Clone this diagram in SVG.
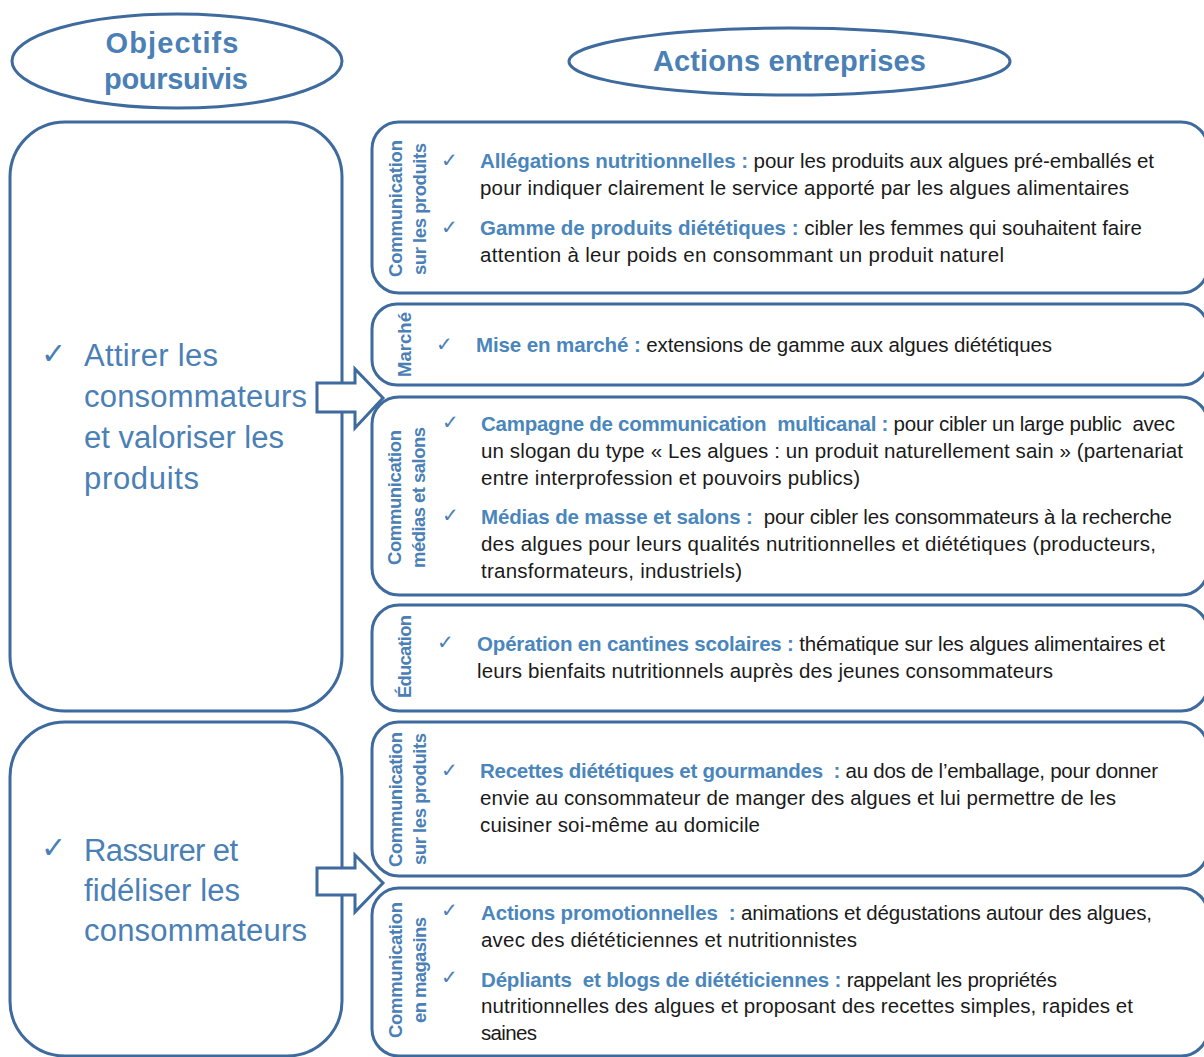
<svg xmlns="http://www.w3.org/2000/svg" width="1204" height="1057" viewBox="0 0 1204 1057">
<style>
.shape{fill:#ffffff;stroke:#3E6A9E;stroke-width:3}
.hdr{font-family:"Liberation Sans",Arial,sans-serif;font-weight:bold;font-size:29px;fill:#4A80B6;text-anchor:middle}
.obj{font-family:"Liberation Sans",Arial,sans-serif;font-size:31px;fill:#4A80B6}
.big{font-family:"DejaVu Sans",sans-serif;font-size:30px;fill:#4A80B6}
.chk{font-family:"DejaVu Sans",sans-serif;font-size:20px;fill:#4A80B6}
.vl{font-family:"Liberation Sans",Arial,sans-serif;font-weight:bold;font-size:18.5px;fill:#4A80B6;text-anchor:middle}
.t{font-family:"Liberation Sans",Arial,sans-serif;font-size:20.5px;fill:#1a1a1a}
.b{font-weight:bold;fill:#4A86BC}
</style>

<g id="header-objectifs">
<ellipse class="shape" cx="177" cy="61" rx="165" ry="47"/>
<text class="hdr" x="172" y="53" textLength="133">Objectifs</text>
<text class="hdr" x="176" y="89" textLength="144">poursuivis</text>
</g>
<g id="header-actions">
<ellipse class="shape" cx="789.5" cy="61.5" rx="220.5" ry="33.5"/>
<text class="hdr" x="789.5" y="71" textLength="273">Actions entreprises</text>
</g>

<g id="objectif-attirer">
<rect class="shape" x="10" y="122" width="332" height="589" rx="55"/>
<text class="big" x="41" y="364">✓</text>
<text class="obj" x="84" y="366" textLength="134">Attirer les</text>
<text class="obj" x="84" y="407" textLength="223">consommateurs</text>
<text class="obj" x="84" y="448" textLength="200">et valoriser les</text>
<text class="obj" x="84" y="489" textLength="115">produits</text>
</g>

<g id="objectif-rassurer">
<rect class="shape" x="10" y="722" width="332" height="334" rx="55"/>
<text class="big" x="41" y="858">✓</text>
<text class="obj" x="84" y="861" textLength="154">Rassurer et</text>
<text class="obj" x="84" y="901" textLength="156">fidéliser les</text>
<text class="obj" x="84" y="941" textLength="223">consommateurs</text>
</g>

<g id="action-communication-produits-1">
<rect class="shape" x="372" y="122" width="836" height="171" rx="27"/>
<text class="vl" transform="translate(402,208.5) rotate(-90)" textLength="137">Communication</text>
<text class="vl" transform="translate(426,209) rotate(-90)" textLength="132">sur les produits</text>
<text class="chk" x="441" y="167">✓</text>
<text class="t" x="480" y="168" textLength="674"><tspan class="b">Allégations nutritionnelles :</tspan> pour les produits aux algues pré-emballés et</text>
<text class="t" x="480" y="195" textLength="649">pour indiquer clairement le service apporté par les algues alimentaires</text>
<text class="chk" x="441" y="234">✓</text>
<text class="t" x="480" y="235" textLength="662"><tspan class="b">Gamme de produits diététiques :</tspan> cibler les femmes qui souhaitent faire</text>
<text class="t" x="480" y="262" textLength="524">attention à leur poids en consommant un produit naturel</text>
</g>

<g id="action-marche">
<rect class="shape" x="372" y="304" width="836" height="81" rx="25"/>
<text class="vl" transform="translate(411,344.5) rotate(-90)" textLength="65">Marché</text>
<text class="chk" x="436" y="351">✓</text>
<text class="t" x="476" y="352" textLength="576"><tspan class="b">Mise en marché :</tspan> extensions de gamme aux algues diététiques</text>
</g>

<g id="action-communication-medias">
<rect class="shape" x="372" y="397" width="836" height="198" rx="27"/>
<text class="vl" transform="translate(401,497.5) rotate(-90)" textLength="135">Communication</text>
<text class="vl" transform="translate(425,497.5) rotate(-90)" textLength="141">médias et salons</text>
<text class="chk" x="442" y="429">✓</text>
<text class="t" x="481" y="431" textLength="694" xml:space="preserve"><tspan class="b">Campagne de communication  multicanal :</tspan> pour cibler un large public  avec</text>
<text class="t" x="481" y="458" textLength="702">un slogan du type « Les algues : un produit naturellement sain » (partenariat</text>
<text class="t" x="481" y="485" textLength="379">entre interprofession et pouvoirs publics)</text>
<text class="chk" x="442" y="522">✓</text>
<text class="t" x="481" y="524" textLength="691" xml:space="preserve"><tspan class="b">Médias de masse et salons :</tspan>  pour cibler les consommateurs à la recherche</text>
<text class="t" x="481" y="551" textLength="675">des algues pour leurs qualités nutritionnelles et diététiques (producteurs,</text>
<text class="t" x="481" y="578" textLength="261">transformateurs, industriels)</text>
</g>

<g id="action-education">
<rect class="shape" x="372" y="605" width="836" height="106" rx="27"/>
<text class="vl" transform="translate(411,656.5) rotate(-90)" textLength="83">Éducation</text>
<text class="chk" x="437" y="649">✓</text>
<text class="t" x="477" y="651" textLength="688"><tspan class="b">Opération en cantines scolaires :</tspan> thématique sur les algues alimentaires et</text>
<text class="t" x="477" y="678" textLength="576">leurs bienfaits nutritionnels auprès des jeunes consommateurs</text>
</g>

<g id="action-communication-produits-2">
<rect class="shape" x="372" y="722" width="836" height="154" rx="27"/>
<text class="vl" transform="translate(402,799.5) rotate(-90)" textLength="135">Communication</text>
<text class="vl" transform="translate(426,799) rotate(-90)" textLength="132">sur les produits</text>
<text class="chk" x="441" y="777">✓</text>
<text class="t" x="480" y="778" textLength="678" xml:space="preserve"><tspan class="b">Recettes diététiques et gourmandes  :</tspan> au dos de l’emballage, pour donner</text>
<text class="t" x="480" y="805" textLength="636">envie au consommateur de manger des algues et lui permettre de les</text>
<text class="t" x="480" y="832" textLength="280">cuisiner soi-même au domicile</text>
</g>

<g id="action-communication-magasins">
<rect class="shape" x="372" y="888" width="836" height="168" rx="27"/>
<text class="vl" transform="translate(402,970) rotate(-90)" textLength="136">Communication</text>
<text class="vl" transform="translate(426,970) rotate(-90)" textLength="106">en magasins</text>
<text class="chk" x="441" y="917">✓</text>
<text class="t" x="481" y="920" textLength="671" xml:space="preserve"><tspan class="b">Actions promotionnelles  :</tspan> animations et dégustations autour des algues,</text>
<text class="t" x="481" y="947" textLength="376">avec des diététiciennes et nutritionnistes</text>
<text class="chk" x="441" y="984">✓</text>
<text class="t" x="481" y="987" textLength="576" xml:space="preserve"><tspan class="b">Dépliants  et blogs de diététiciennes :</tspan> rappelant les propriétés</text>
<text class="t" x="481" y="1013" textLength="652">nutritionnelles des algues et proposant des recettes simples, rapides et</text>
<text class="t" x="481" y="1040" textLength="56">saines</text>
</g>

<g id="connectors">
<polygon class="shape" points="317,383 355,383 355,369 383,398 355,428 355,412 317,412"/>
<polygon class="shape" points="317,868 355,868 355,855 383,883 355,912 355,895 317,895"/>
</g>
</svg>
